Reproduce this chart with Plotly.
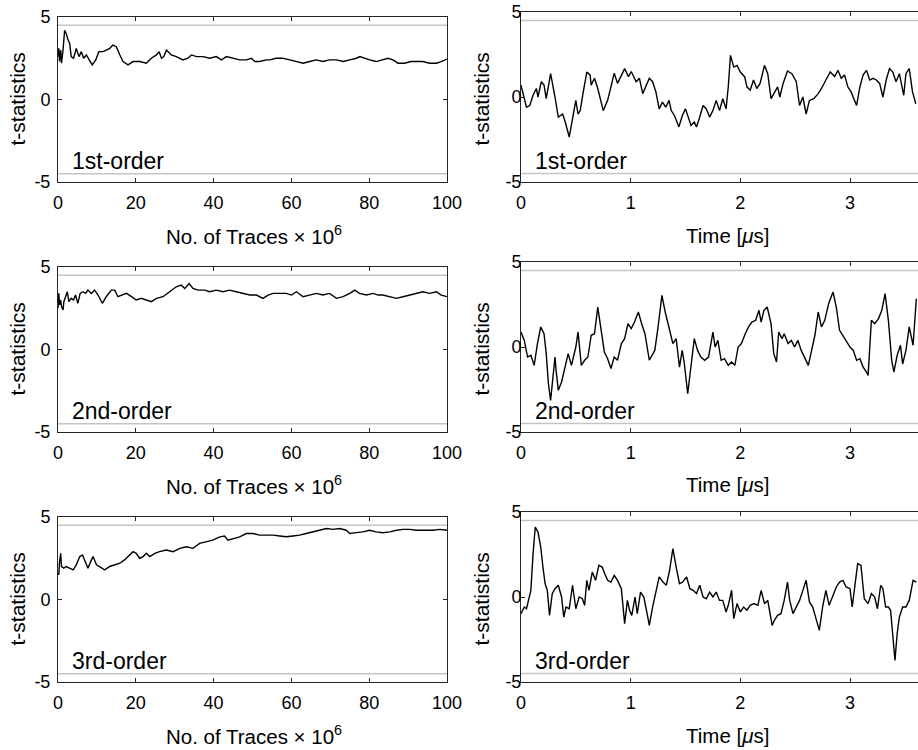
import plotly.graph_objects as go

# ---------------- data ----------------
THRESHOLD = 4.5

# Left column: t-statistics vs number of traces (x 10^6)
traces_1st = [0.0, 0.2, 0.4, 0.7, 0.9, 1.3, 1.7, 2.1, 2.6, 3.0, 3.4, 4.0, 4.7, 5.4, 6.0, 6.6, 7.3, 8.0, 8.8, 9.7,
              10.5, 11.6, 12.4, 13.3, 14.1, 15.0, 15.9, 16.7, 18.0, 19.3, 21.0, 22.7, 24.0, 25.3, 26.0, 26.6, 27.2,
              27.9, 29.1, 30.4, 32.1, 33.4, 34.3, 35.6, 37.3, 39.0, 40.7, 42.0, 43.3, 45.0, 46.7, 48.4, 49.7, 50.6,
              51.8, 53.6, 54.4, 56.1, 57.8, 59.6, 61.3, 63.0, 64.7, 66.4, 68.1, 69.8, 71.6, 73.3, 75.0, 76.7, 77.6,
              78.8, 80.1, 81.8, 83.6, 84.8, 86.1, 87.4, 89.1, 90.8, 92.5, 93.8, 95.5, 97.3, 98.5, 100.0]
tstat_1st_traces = [2.6, 3.1, 2.3, 3.0, 2.2, 3.0, 4.2, 4.0, 3.6, 3.4, 2.6, 2.5, 3.1, 2.6, 2.9, 2.5, 2.7, 2.4, 2.1, 2.4,
                    2.9, 2.9, 3.0, 3.1, 3.3, 3.2, 2.7, 2.3, 2.1, 2.3, 2.3, 2.2, 2.5, 2.7, 2.9, 2.5, 2.6,
                    3.0, 2.7, 2.6, 2.4, 2.5, 2.7, 2.6, 2.6, 2.5, 2.6, 2.4, 2.6, 2.5, 2.4, 2.4, 2.5, 2.3,
                    2.3, 2.4, 2.4, 2.5, 2.5, 2.4, 2.3, 2.2, 2.3, 2.4, 2.3, 2.4, 2.4, 2.3, 2.4, 2.5, 2.6,
                    2.5, 2.4, 2.3, 2.4, 2.5, 2.4, 2.2, 2.2, 2.3, 2.3, 2.3, 2.2, 2.2, 2.3, 2.45]

traces_2nd = [0.0, 0.2, 0.4, 0.7, 0.9, 1.3, 1.5, 2.0, 2.4, 2.8, 3.4, 4.0, 4.5, 5.1, 5.7, 6.4, 7.1, 7.7, 8.6, 9.4,
              10.3, 11.4, 12.4, 13.7, 14.6, 15.4, 16.3, 17.6, 18.9, 20.1, 21.4, 22.7, 24.0, 25.3, 27.0, 28.7, 30.4,
              31.7, 32.6, 33.7, 34.7, 36.0, 37.7, 39.0, 40.7, 42.4, 44.1, 45.8, 47.6, 49.3, 51.0, 52.7, 54.0, 55.3,
              57.0, 58.7, 60.0, 61.3, 63.0, 64.7, 66.4, 68.1, 69.8, 71.6, 73.3, 75.0, 76.3, 77.5, 79.3, 81.0, 82.3,
              83.5, 85.3, 87.0, 88.7, 90.4, 92.1, 93.8, 95.5, 97.3, 98.5, 100.0]
tstat_2nd_traces = [2.5, 3.4, 2.7, 3.0, 2.6, 2.4, 2.9, 3.2, 3.5, 2.9, 3.1, 3.0, 3.3, 2.8, 3.4, 3.5, 3.4, 3.6, 3.4, 3.6,
                    3.3, 2.8, 3.2, 3.6, 3.6, 3.2, 3.3, 3.4, 3.2, 3.0, 3.1, 3.0, 2.9, 3.1, 3.2, 3.5, 3.8,
                    3.9, 3.7, 4.0, 3.7, 3.6, 3.6, 3.5, 3.6, 3.5, 3.6, 3.5, 3.4, 3.3, 3.3, 3.1, 3.3, 3.4,
                    3.4, 3.4, 3.3, 3.5, 3.2, 3.3, 3.4, 3.3, 3.4, 3.1, 3.2, 3.4, 3.6, 3.4, 3.3, 3.4, 3.3,
                    3.3, 3.2, 3.1, 3.2, 3.3, 3.4, 3.5, 3.4, 3.5, 3.3, 3.2]

traces_3rd = [0.0, 0.2, 0.4, 0.7, 0.9, 1.5, 2.1, 3.0, 3.9, 4.7, 5.6, 6.3, 7.1, 7.7, 8.6, 9.0, 9.9, 10.7, 12.0, 13.3,
              14.6, 15.9, 17.1, 18.4, 19.3, 20.1, 21.0, 21.9, 22.7, 23.6, 24.9, 26.1, 27.8, 29.6, 31.3, 33.0, 34.7,
              36.4, 38.1, 39.8, 41.6, 42.8, 43.7, 45.0, 46.7, 48.4, 50.1, 51.8, 53.6, 55.3, 57.0, 58.7, 60.4, 62.1,
              63.8, 65.6, 67.3, 69.0, 70.7, 72.4, 74.1, 75.0, 76.7, 78.4, 80.1, 81.8, 83.5, 85.3, 87.0, 88.7, 90.4,
              92.1, 94.3, 96.4, 98.1, 100.0]
tstat_3rd_traces = [1.6, 1.5, 2.3, 2.8, 2.0, 1.9, 2.0, 1.9, 1.8, 2.1, 2.6, 2.7, 2.3, 1.9, 2.4, 2.6, 2.1, 2.0, 1.8, 2.0,
                    2.1, 2.2, 2.4, 2.7, 2.9, 2.8, 2.5, 2.6, 2.8, 2.6, 2.8, 2.9, 3.0, 2.9, 3.1, 3.2, 3.1,
                    3.4, 3.5, 3.6, 3.8, 3.85, 3.6, 3.7, 3.8, 4.0, 4.0, 3.9, 3.9, 3.9, 3.85, 3.8, 3.85, 3.9,
                    4.0, 4.1, 4.2, 4.3, 4.25, 4.3, 4.2, 4.0, 4.05, 4.1, 4.2, 4.1, 4.05, 4.1, 4.2, 4.25, 4.25,
                    4.2, 4.2, 4.2, 4.25, 4.2]

# Right column: t-statistics vs time (us)
time_1st = [0.00, 0.05, 0.08, 0.11, 0.14, 0.155, 0.185, 0.21, 0.23, 0.27, 0.31, 0.34, 0.38, 0.40, 0.44, 0.46, 0.50,
            0.52, 0.54, 0.565, 0.60, 0.63, 0.64, 0.67, 0.70, 0.75, 0.79, 0.82, 0.85, 0.88, 0.915, 0.945, 0.98, 1.005,
            1.05, 1.08, 1.11, 1.14, 1.17, 1.20, 1.23, 1.26, 1.29, 1.32, 1.35, 1.37, 1.40, 1.44, 1.47, 1.50, 1.52,
            1.55, 1.58, 1.60, 1.63, 1.66, 1.69, 1.72, 1.75, 1.78, 1.81, 1.84, 1.87, 1.89, 1.91, 1.94, 1.97, 2.00,
            2.04, 2.06, 2.09, 2.12, 2.15, 2.18, 2.22, 2.25, 2.28, 2.31, 2.34, 2.36, 2.39, 2.43, 2.47, 2.51, 2.54,
            2.57, 2.60, 2.63, 2.67, 2.71, 2.74, 2.78, 2.82, 2.86, 2.89, 2.92, 2.95, 2.98, 3.01, 3.06, 3.09, 3.12,
            3.15, 3.18, 3.21, 3.24, 3.27, 3.30, 3.33, 3.36, 3.39, 3.42, 3.45, 3.49, 3.51, 3.54, 3.57, 3.60]
tstat_1st_time = [0.69, -0.6, -0.5, 0.1, 0.5, 0.0, 0.9, 0.7, -0.1, 1.37, 0.0, -1.18, -1.0, -1.4, -2.35, -1.57, -0.2,
                  -1.0, -0.8, 0.2, 1.47, 1.3, 0.7, 1.1, 0.5, -0.8, -0.2, 0.6, 1.4, 0.8, 1.3, 1.67, 1.2, 1.5,
                  0.9, 1.1, 0.2, 0.7, 1.1, 0.9, 0.3, -0.7, -0.3, -0.6, -0.2, -0.8, -1.1, -1.76, -1.1, -0.7, -1.1,
                  -1.67, -1.47, -1.76, -1.18, -0.5, -0.7, -1.18, -0.8, -0.2, -0.8, -0.1, -0.7, 0.6, 2.45, 1.76, 1.86, 1.47,
                  1.18, 0.6, 0.4, 1.0, 0.5, 0.8, 1.86, 1.37, -0.1, 0.3, 0.6, 0.0, 0.8, 1.53, 1.37, 0.9, -0.5,
                  0.0, -1.0, -0.2, -0.1, 0.2, 0.5, 1.0, 1.47, 1.2, 1.57, 1.1, 1.3, 0.6, 0.3, -0.5, 0.6, 1.3,
                  1.57, 1.0, 1.1, 1.0, 0.8, 0.0, 1.0, 1.67, 1.47, 0.9, 1.37, 0.1, 1.37, 1.67, 0.3, -0.4]

time_2nd = [0.00, 0.03, 0.06, 0.09, 0.12, 0.15, 0.18, 0.21, 0.23, 0.25, 0.27, 0.29, 0.31, 0.32, 0.34, 0.37, 0.40,
            0.43, 0.46, 0.50, 0.52, 0.55, 0.58, 0.61, 0.64, 0.67, 0.70, 0.73, 0.76, 0.79, 0.82, 0.85, 0.88, 0.915,
            0.945, 0.975, 1.005, 1.035, 1.07, 1.10, 1.13, 1.17, 1.22, 1.25, 1.285, 1.315, 1.345, 1.385, 1.415,
            1.445, 1.47, 1.49, 1.52, 1.54, 1.58, 1.61, 1.64, 1.675, 1.71, 1.75, 1.77, 1.795, 1.825, 1.855, 1.89,
            1.92, 1.95, 1.98, 2.01, 2.045, 2.075, 2.105, 2.14, 2.17, 2.19, 2.215, 2.245, 2.28, 2.305, 2.33, 2.35,
            2.38, 2.40, 2.435, 2.465, 2.495, 2.525, 2.555, 2.585, 2.62, 2.65, 2.68, 2.71, 2.74, 2.77, 2.805, 2.845,
            2.875, 2.905, 2.935, 2.965, 3.00, 3.03, 3.06, 3.09, 3.12, 3.15, 3.165, 3.195, 3.225, 3.26, 3.29, 3.32,
            3.35, 3.38, 3.40, 3.43, 3.46, 3.48, 3.51, 3.54, 3.575, 3.605]
tstat_2nd_time = [0.88, 0.39, -0.59, -0.49, -1.08, 0.2, 1.18, 0.78, -0.39, -2.16, -3.14, -1.76, -0.59, -1.37, -2.55,
                  -2.06, -1.18, -0.39, -1.08, 0.0, 0.88, -1.08, -0.78, -0.59, 0.69, 0.78, 2.35, 0.98, -0.29, -0.69,
                  -1.27, -0.59, -0.78, 0.2, 0.49, 1.37, 1.08, 1.47, 2.06, 1.37, 0.78, -0.78, -0.2, 1.18, 3.04, 2.06,
                  1.18, 0.2, 0.49, -1.18, -0.2, -1.0, -2.75, -1.76, 0.49, -0.2, -0.59, -0.78, -0.59, 0.88, 0.0, 0.39,
                  -0.78, -0.69, -1.08, -0.88, -1.08, 0.0, 0.2, 0.78, 1.18, 1.47, 1.57, 2.16, 1.47, 2.16, 2.35, 1.37,
                  -0.39, -0.88, 0.88, 0.49, 0.78, 0.2, 0.39, 0.0, 0.39, -0.2, -0.59, -1.08, -0.2, 0.69, 2.06, 1.18,
                  1.57, 2.55, 3.24, 2.35, 0.98, 0.69, 0.39, 0.0, -0.2, -0.78, -0.69, -1.18, -1.47, -1.67, 1.57, 1.37,
                  1.67, 2.16, 3.14, 1.57, -0.78, -1.47, -0.49, 0.1, -1.0, -0.2, 1.18, 0.1, 2.84]

time_3rd = [0.00, 0.03, 0.05, 0.07, 0.09, 0.11, 0.13, 0.155, 0.18, 0.20, 0.22, 0.24, 0.26, 0.285, 0.31, 0.34, 0.37,
            0.39, 0.41, 0.44, 0.47, 0.50, 0.53, 0.56, 0.58, 0.60, 0.62, 0.65, 0.68, 0.71, 0.74, 0.77, 0.79, 0.82,
            0.85, 0.88, 0.915, 0.945, 0.97, 0.99, 1.01, 1.04, 1.06, 1.09, 1.12, 1.15, 1.17, 1.20, 1.23, 1.26,
            1.295, 1.325, 1.355, 1.385, 1.415, 1.445, 1.475, 1.51, 1.54, 1.57, 1.60, 1.63, 1.66, 1.69, 1.72, 1.75,
            1.78, 1.81, 1.84, 1.87, 1.89, 1.92, 1.94, 1.97, 2.00, 2.03, 2.06, 2.09, 2.125, 2.16, 2.19, 2.22, 2.25,
            2.29, 2.31, 2.34, 2.37, 2.40, 2.43, 2.45, 2.48, 2.51, 2.54, 2.57, 2.60, 2.63, 2.66, 2.69, 2.72, 2.75,
            2.78, 2.81, 2.845, 2.875, 2.905, 2.935, 2.965, 3.00, 3.02, 3.05, 3.07, 3.10, 3.13, 3.165, 3.195, 3.225,
            3.25, 3.28, 3.30, 3.325, 3.35, 3.37, 3.39, 3.41, 3.43, 3.45, 3.48, 3.51, 3.54, 3.575, 3.605]
tstat_3rd_time = [-0.98, -0.59, -0.69, -0.2, 0.39, 2.55, 4.12, 3.82, 2.94, 1.76, 0.78, 0.39, -1.08, 0.2, 0.49, 0.69,
                  0.0, -1.18, -0.59, -0.69, 0.69, -0.69, 0.0, -0.1, -0.49, 0.98, 0.39, 1.47, 0.98, 1.86, 1.76, 1.27,
                  0.98, 0.88, 1.27, 0.98, 0.49, -1.57, -0.2, -0.78, -1.08, 0.0, -0.98, 0.29, 0.0, -0.98, -1.67, -0.59,
                  0.39, 1.18, 0.88, 0.69, 1.57, 2.84, 1.76, 0.78, 0.88, 1.18, 0.49, 0.39, 0.2, 0.69, 0.0, -0.1, 0.29,
                  0.0, 0.29, -0.2, -0.2, -0.88, -0.49, 0.39, -1.27, -0.39, -0.88, -0.59, -0.78, -0.49, -0.39, -0.49,
                  0.39, -0.39, -0.2, -1.67, -1.37, -1.08, -0.98, -0.2, 0.88, -0.2, -0.98, -0.59, -0.2, 0.39, 0.98,
                  -0.29, -0.59, -1.27, -1.96, -0.59, 0.39, -0.49, 0.1, 0.59, 0.88, 0.98, 0.59, 0.49, -0.59, 0.98, 1.96,
                  1.86, -0.1, -0.39, 0.2, 0.0, -0.69, 0.69, 0.49, -0.59, -0.59, -0.78, -2.16, -3.73, -2.16, -1.18,
                  -0.59, -0.59, -0.2, 0.98, 0.88]

order_labels = ["1st-order", "2nd-order", "3rd-order"]
y_ticks = [-5, 0, 5]
y_ticktext = ["-5", "0", "5"]
traces_ticks = [0, 20, 40, 60, 80, 100]
time_ticks = [0, 1, 2, 3]
traces_range = [0, 100]
time_range = [0, 3.62]
y_range = [-5, 5]

left_series = [(traces_1st, tstat_1st_traces), (traces_2nd, tstat_2nd_traces), (traces_3rd, tstat_3rd_traces)]
right_series = [(time_1st, tstat_1st_time), (time_2nd, tstat_2nd_time), (time_3rd, tstat_3rd_time)]

# ---------------- layout geometry (window pixels) ----------------
W, H = 918, 750
FONT = "Liberation Sans, Arial, sans-serif"
AX = "#262626"


def px(x):
    return x / W


def py(y):
    return 1 - y / H


left_dom = [px(58), px(447)]
right_dom = [px(521), 1.0]
row_bottom = [182, 432, 682]
row_top_left = [17, 267, 517]
row_top_right = [12, 262, 512]

fig = go.Figure()
annotations = []
shapes = []

for r in range(3):
    for c in range(2):
        idx = r * 2 + c + 1
        xs, ys = (left_series if c == 0 else right_series)[r]
        xa = "x" if idx == 1 else f"x{idx}"
        ya = "y" if idx == 1 else f"y{idx}"
        fig.add_trace(go.Scatter(x=xs, y=ys, mode="lines", xaxis=xa, yaxis=ya,
                                 line=dict(color="black", width=1.4), showlegend=False,
                                 hoverinfo="skip"))
        top = row_top_left[r] if c == 0 else row_top_right[r]
        ydom = [py(row_bottom[r]), py(top)]
        xdom = left_dom if c == 0 else right_dom
        xkey = "xaxis" if idx == 1 else f"xaxis{idx}"
        ykey = "yaxis" if idx == 1 else f"yaxis{idx}"
        fig.layout[xkey] = dict(
            domain=xdom, anchor=ya, range=traces_range if c == 0 else time_range,
            tickvals=traces_ticks if c == 0 else time_ticks,
            ticks="inside", ticklen=4, tickcolor=AX, tickwidth=1,
            showline=True, linecolor=AX, linewidth=1, mirror="ticks",
            showgrid=False, zeroline=False, automargin=False,
            tickfont=dict(family=FONT, size=18, color="black"),
            ticklabelstandoff=4, ticklabeloverflow="allow",
        )
        fig.layout[ykey] = dict(
            domain=ydom, anchor=xa, range=y_range,
            tickvals=y_ticks, ticktext=y_ticktext,
            ticks="inside", ticklen=4, tickcolor=AX, tickwidth=1,
            showline=True, linecolor=AX, linewidth=1,
            mirror="ticks" if c == 0 else False,
            showgrid=False, zeroline=False, automargin=False,
            tickfont=dict(family=FONT, size=18, color="black"),
            ticklabelstandoff=3 if c == 0 else -5, ticklabeloverflow="allow",
        )
        # threshold lines
        for th in (THRESHOLD, -THRESHOLD):
            shapes.append(dict(type="line", xref=f"{xa} domain", yref=ya, x0=0, x1=1, y0=th, y1=th,
                               line=dict(color="#c4c4c4", width=1.3), layer="below"))
        # order label
        annotations.append(dict(text=order_labels[r], xref=f"{xa} domain", yref=ya,
                                x=0.03, y=-3.75, xanchor="left", yanchor="middle", showarrow=False,
                                font=dict(family=FONT, size=23, color="black")))
        # axis titles
        xtitle = "No. of Traces × 10<sup>6</sup>" if c == 0 else "Time [<i>μ</i>s]"
        annotations.append(dict(text=xtitle, xref="paper", yref="paper",
                                x=(px(254) if c == 0 else px(727)), y=py(row_bottom[r] + 53),
                                xanchor="center", yanchor="middle", showarrow=False,
                                font=dict(family=FONT, size=20.5, color="black")))
        annotations.append(dict(text="t-statistics", xref="paper", yref="paper", textangle=-90,
                                x=(px(17) if c == 0 else px(481)),
                                y=py((row_bottom[r] + row_top_left[r]) / 2),
                                xanchor="center", yanchor="middle", showarrow=False,
                                font=dict(family=FONT, size=21, color="black")))

fig.update_layout(width=W, height=H, margin=dict(l=0, r=0, t=0, b=0, autoexpand=False),
                  paper_bgcolor="white", plot_bgcolor="white",
                  annotations=annotations, shapes=shapes)

# remove the default 8px page margin so the 918x750 figure fills the window exactly
fig.write_html("out.html", config={"displayModeBar": False},
               post_script="document.body.style.margin='0';document.body.style.overflow='hidden';")
